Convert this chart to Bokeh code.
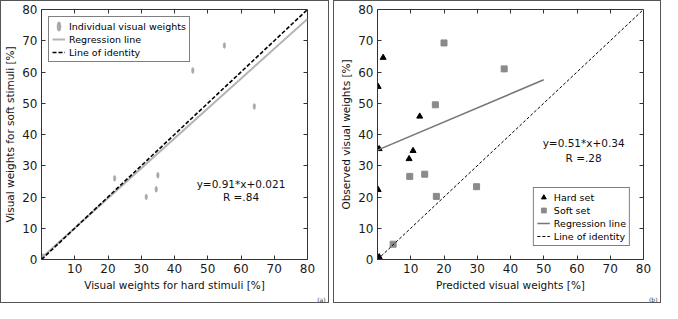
from bokeh.plotting import figure
from bokeh.models import LinearAxis, FixedTicker, Range1d, Label, Legend, LegendItem, Title
from bokeh.layouts import row
from bokeh.embed import file_html
from bokeh.resources import INLINE

# ---- data: panel (a)
hard_stimuli = [0.5, 22, 31.5, 34.5, 35, 45.5, 55, 64]
soft_stimuli = [1, 26, 20, 22.5, 27, 60.5, 68.5, 49]
reg_a_x = [0, 80]
reg_a_y = [0.5, 77]
ident_x = [0, 80]
ident_y = [0, 80]

# ---- data: panel (b)
hard_pred = [0.5, 0.2, 1.7, 0.5, 9.5, 10.7, 12.7, 0.2]
hard_obs = [0.8, 55.3, 64.6, 35.4, 32.2, 34.8, 45.8, 22.3]
soft_pred = [4.7, 9.7, 14.2, 17.7, 17.4, 20.0, 29.8, 38.1]
soft_obs = [4.9, 26.6, 27.3, 20.2, 49.5, 69.3, 23.3, 61.0]
reg_b_x = [0, 50]
reg_b_y = [35, 57.5]

y_ticks = [0, 10, 20, 30, 40, 50, 60, 70, 80]
x_ticks = [10, 20, 30, 40, 50, 60, 70, 80]

FONT = "DejaVu Sans"
FW, FH = 264, 248


def make_fig(xlabel, ylabel, bl, br, tag, tag_off):
    p = figure(frame_width=FW, frame_height=FH, output_backend="svg",
               toolbar_location=None,
               x_range=Range1d(0, 80), y_range=Range1d(0, 80),
               min_border_left=bl, min_border_right=br, min_border_top=8,
               min_border_bottom=45)
    p.grid.visible = False
    p.outline_line_color = "#333333"
    p.outline_line_width = 1
    p.background_fill_color = "white"
    p.border_fill_color = "white"
    p.styles = {"border": "1px solid #555555"}
    p.xaxis.ticker = FixedTicker(ticks=x_ticks)
    p.yaxis.ticker = FixedTicker(ticks=y_ticks)
    for ax in (p.xaxis[0], p.yaxis[0]):
        ax.axis_line_color = "#333333"
        ax.major_tick_in = 4
        ax.major_tick_out = 0
        ax.minor_tick_line_color = None
        ax.major_tick_line_color = "#333333"
        ax.major_label_text_font = FONT
        ax.major_label_text_font_size = "12px"
        ax.major_label_text_color = "#1a1a1a"
        ax.axis_label_text_font = FONT
        ax.axis_label_text_font_size = "10.5px"
        ax.axis_label_text_font_style = "normal"
        ax.axis_label_text_color = "#111111"
        ax.major_label_standoff = 4
        ax.axis_label_standoff = 3
    p.xaxis.axis_label = xlabel
    p.yaxis.axis_label = ylabel
    for loc in ("right", "above"):
        ax = LinearAxis(ticker=FixedTicker(ticks=x_ticks[:-1]))
        ax.axis_line_color = None
        ax.major_tick_in = 4
        ax.major_tick_out = 0
        ax.minor_tick_line_color = None
        ax.major_tick_line_color = "#333333"
        ax.major_label_text_font_size = "0px"
        ax.major_label_text_color = None
        ax.major_label_standoff = 0
        p.add_layout(ax, loc)
    p.add_layout(Title(text=tag, align="right", text_font=FONT, text_font_size="6px",
                       text_font_style="normal", text_color="#333333",
                       standoff=0, offset=tag_off), "below")
    return p


def add_text(p, x, y, txt, size="10.5px"):
    p.add_layout(Label(x=x, y=y, text=txt, text_align="center",
                       text_baseline="middle", text_font=FONT,
                       text_font_size=size, text_color="#111111"))


# ---------- panel (a)
pa = make_fig("Visual weights for hard stimuli [%]", "Visual weights for soft stimuli [%]",
              39, 23, "(a)", -18)
r_pts = pa.ellipse(hard_stimuli, soft_stimuli, width=2.5, height=6,
                   width_units="screen", height_units="screen",
                   fill_color="#a8a8a8", line_color="#a8a8a8", line_width=0.5)
r_reg = pa.line(reg_a_x, reg_a_y, line_color="#b4b4b4", line_width=2)
r_id = pa.line(ident_x, ident_y, line_color="black", line_width=1.6, line_dash="4 2")
add_text(pa, 60, 24.3, "y=0.91*x+0.021")
add_text(pa, 60, 20, "R =.84")
leg_a = Legend(items=[LegendItem(label="Individual visual weights", renderers=[r_pts]),
                      LegendItem(label="Regression line", renderers=[r_reg]),
                      LegendItem(label="Line of identity", renderers=[r_id])],
               location="top_left")

# ---------- panel (b)
pb = make_fig("Predicted visual weights [%]", "Observed visual weights [%]",
              43, 19, "(b)", -14)
r_hard = pb.scatter(hard_pred, hard_obs, marker="triangle", size=6,
                    fill_color="black", line_color="black")
r_soft = pb.scatter(soft_pred, soft_obs, marker="square", size=6,
                    fill_color="#8a8a8a", line_color="#8a8a8a")
r_reg_b = pb.line(reg_b_x, reg_b_y, line_color="#777777", line_width=1.6)
r_id_b = pb.line(ident_x, ident_y, line_color="black", line_width=1, line_dash="3 2")
add_text(pb, 62, 37.2, "y=0.51*x+0.34")
add_text(pb, 62, 32.4, "R =.28")
leg_b = Legend(items=[LegendItem(label="Hard set", renderers=[r_hard]),
                      LegendItem(label="Soft set", renderers=[r_soft]),
                      LegendItem(label="Regression line", renderers=[r_reg_b]),
                      LegendItem(label="Line of identity", renderers=[r_id_b])],
               location="bottom_right")

for p, leg, m in ((pa, leg_a, 7), (pb, leg_b, 13)):
    leg.border_line_color = "black"
    leg.border_line_width = 1
    leg.background_fill_color = "white"
    leg.background_fill_alpha = 1
    leg.label_text_font = FONT
    leg.label_text_font_size = "9.5px"
    leg.label_text_color = "#000000"
    leg.label_height = 12
    leg.glyph_height = 12
    leg.glyph_width = 13
    leg.label_standoff = 4
    leg.spacing = 1
    leg.padding = 3
    leg.margin = m
    p.add_layout(leg)

layout = row(pa, pb, spacing=4)
open("out.html", "w").write(file_html(layout, INLINE))
